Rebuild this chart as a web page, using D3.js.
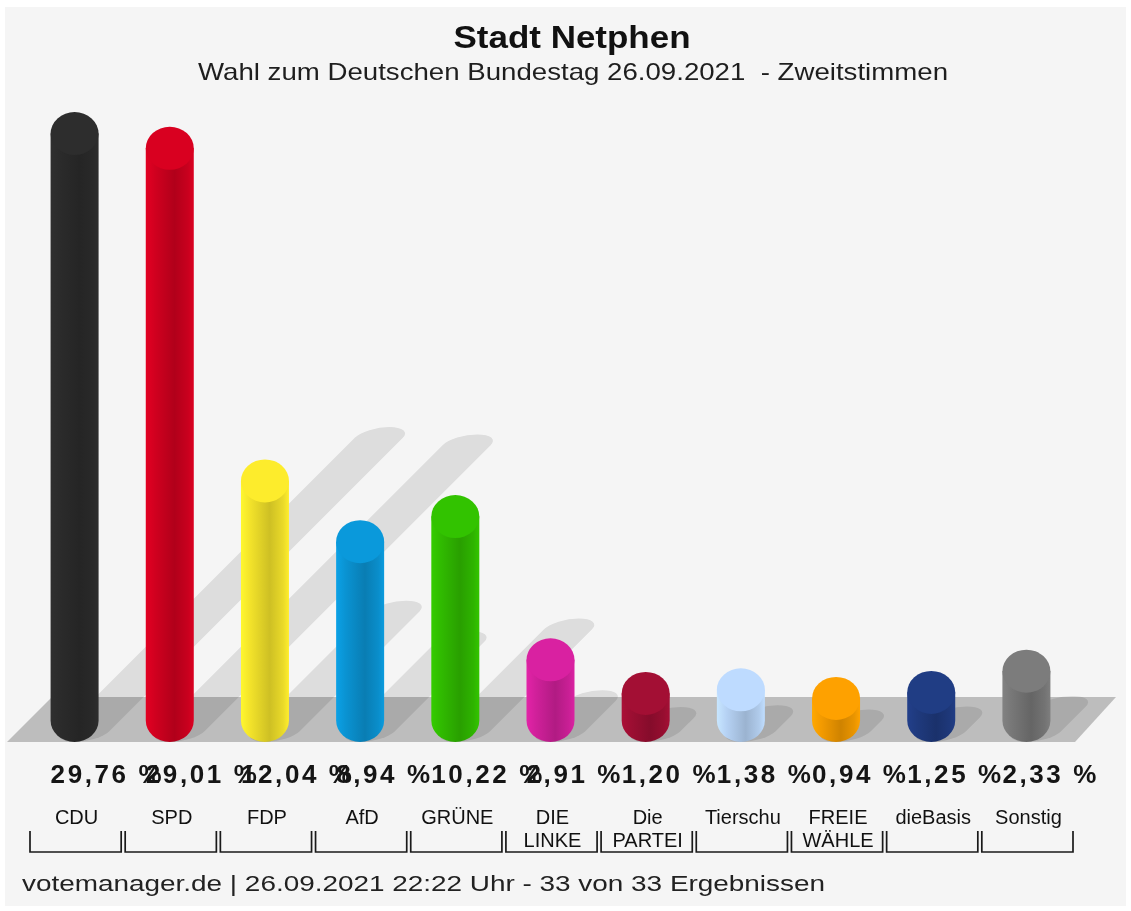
<!DOCTYPE html>
<html>
<head>
<meta charset="utf-8">
<script src="https://cdn.jsdelivr.net/npm/d3@7.9.0/dist/d3.min.js"></script>
<style>
  body { margin: 0; background: #fff; }
  svg { display: block; }
  text { font-family: "Liberation Sans", Arial, sans-serif; }
</style>
</head>
<body>
<div id="chart"></div>
<script>
const parties = ['CDU', 'SPD', 'FDP', 'AfD', 'GRÜNE', 'DIE LINKE', 'Die PARTEI', 'Tierschu', 'FREIE WÄHLE', 'dieBasis', 'Sonstig'];
const labelLines = [['CDU'], ['SPD'], ['FDP'], ['AfD'], ['GRÜNE'], ['DIE', 'LINKE'], ['Die', 'PARTEI'], ['Tierschu'], ['FREIE', 'WÄHLE'], ['dieBasis'], ['Sonstig']];
const shares = [29.76, 29.01, 12.04, 8.94, 10.22, 2.91, 1.20, 1.38, 0.94, 1.25, 2.33];
const colors = ['#2b2b2b', '#d0001f', '#f2e22a', '#0a93d2', '#30bb00', '#d0209a', '#9c0e32', '#b6d2f4', '#f39a00', '#1f3a7e', '#777777'];

const title = 'Stadt Netphen';
const subtitle = 'Wahl zum Deutschen Bundestag 26.09.2021  - Zweitstimmen';
const footer = 'votemanager.de | 26.09.2021 22:22 Uhr - 33 von 33 Ergebnissen';

const width = 1131;
const height = 911;
const base = 742;       // bottom of the cylinders
const rx = 24, ry = 21.5;
const k = 0.5;          // shadow shear

const svg = d3.select('#chart').append('svg')
    .attr('width', width)
    .attr('height', height);

svg.append('rect').attr('width', width).attr('height', height).attr('fill', '#fff');
svg.append('rect')
    .attr('x', 5).attr('y', 7)
    .attr('width', width - 10).attr('height', height - 12)
    .attr('fill', '#f5f5f5');

const x = d3.scaleBand().domain(parties).range([27, 1074]);
// top of each cylinder
const y = d3.scaleLinear().domain([0, 30]).range([base - 46.6, base - 46.6 - 588]);

const defs = svg.append('defs');
colors.forEach((c, i) => {
  const col = d3.color(c);
  const g = defs.append('linearGradient').attr('id', 'g' + i)
      .attr('x1', 0).attr('x2', 1).attr('y1', 0).attr('y2', 0);
  [[0, col.brighter(0.25)], [0.2, col], [0.6, col.darker(0.45)], [0.88, col.darker(0.1)], [1, col.brighter(0.15)]]
    .forEach(([o, s]) => g.append('stop').attr('offset', o).attr('stop-color', s.formatHex()));
});

const cx = d => x(d) + x.bandwidth() / 2;

function silhouette(d, i) {
  const c = cx(d);
  const topC = y(shares[i]) + ry;
  const botC = base - ry;
  return `M${c - rx},${topC} L${c - rx},${botC} A${rx},${ry} 0 0 0 ${c + rx},${botC} ` +
         `L${c + rx},${topC} A${rx},${ry} 0 0 0 ${c - rx},${topC} Z`;
}

// floor
const [x0, x1] = x.range();
svg.append('path')
    .attr('d', `M${x0 - 20},${base} L${x0 + 25},${base - 45} L${x1 + 42},${base - 45} L${x1 + 1},${base} Z`)
    .attr('fill', '#bdbdbd');

// shadows
svg.append('g')
    .attr('opacity', 0.1)
  .selectAll('path')
  .data(parties)
  .join('path')
    .attr('d', silhouette)
    .attr('transform', `matrix(1,0,${-k},${k},${k * base},${(1 - k) * base})`)
    .attr('fill', '#000');

// cylinders
const bars = svg.append('g').selectAll('g')
  .data(parties)
  .join('g');

bars.append('path')
    .attr('d', (d, i) => {
      const c = cx(d);
      const topC = y(shares[i]) + ry;
      const botC = base - ry;
      return `M${c - rx},${topC} L${c - rx},${botC} A${rx},${ry} 0 0 0 ${c + rx},${botC} L${c + rx},${topC} Z`;
    })
    .attr('fill', (d, i) => `url(#g${i})`);

bars.append('ellipse')
    .attr('cx', cx)
    .attr('cy', (d, i) => y(shares[i]) + ry)
    .attr('rx', rx)
    .attr('ry', ry)
    .attr('fill', (d, i) => d3.color(colors[i]).brighter(0.12).formatHex());

// value labels
svg.append('g').selectAll('text')
  .data(parties)
  .join('text')
    .attr('x', d => cx(d) - rx)
    .attr('y', 783)
    .attr('font-size', 26)
    .attr('font-weight', 'bold')
    .attr('letter-spacing', 2.6)
    .attr('fill', '#151515')
    .text((d, i) => shares[i].toFixed(2).replace('.', ',') + ' %');

// category labels
svg.append('g').selectAll('text')
  .data(parties)
  .join('text')
    .attr('text-anchor', 'middle')
    .attr('font-size', 20)
    .attr('fill', '#111')
  .selectAll('tspan')
  .data((d, i) => labelLines[i].map((t, j) => ({ t, j, d })))
  .join('tspan')
    .attr('x', o => cx(o.d) + 2)
    .attr('y', o => 824 + o.j * 23)
    .text(o => o.t);

// brackets
svg.append('g').selectAll('path')
  .data(parties)
  .join('path')
    .attr('d', d => `M${x(d) + 3},831 V852 H${x(d) + x.bandwidth() - 1} V831`)
    .attr('fill', 'none')
    .attr('stroke', '#1a1a1a')
    .attr('stroke-width', 1.7);

// titles
svg.append('text')
    .attr('x', 572).attr('y', 48)
    .attr('text-anchor', 'middle')
    .attr('font-size', 32)
    .attr('font-weight', 'bold')
    .attr('fill', '#111')
    .attr('textLength', 237)
    .attr('lengthAdjust', 'spacingAndGlyphs')
    .text(title);

svg.append('text')
    .attr('x', 573).attr('y', 80)
    .attr('text-anchor', 'middle')
    .attr('font-size', 24)
    .attr('fill', '#1e1e1e')
    .style('white-space', 'pre')
    .attr('textLength', 750)
    .attr('lengthAdjust', 'spacingAndGlyphs')
    .text(subtitle);

svg.append('text')
    .attr('x', 22).attr('y', 891)
    .attr('font-size', 22)
    .attr('fill', '#222')
    .attr('textLength', 803)
    .attr('lengthAdjust', 'spacingAndGlyphs')
    .text(footer);
</script>
</body>
</html>
